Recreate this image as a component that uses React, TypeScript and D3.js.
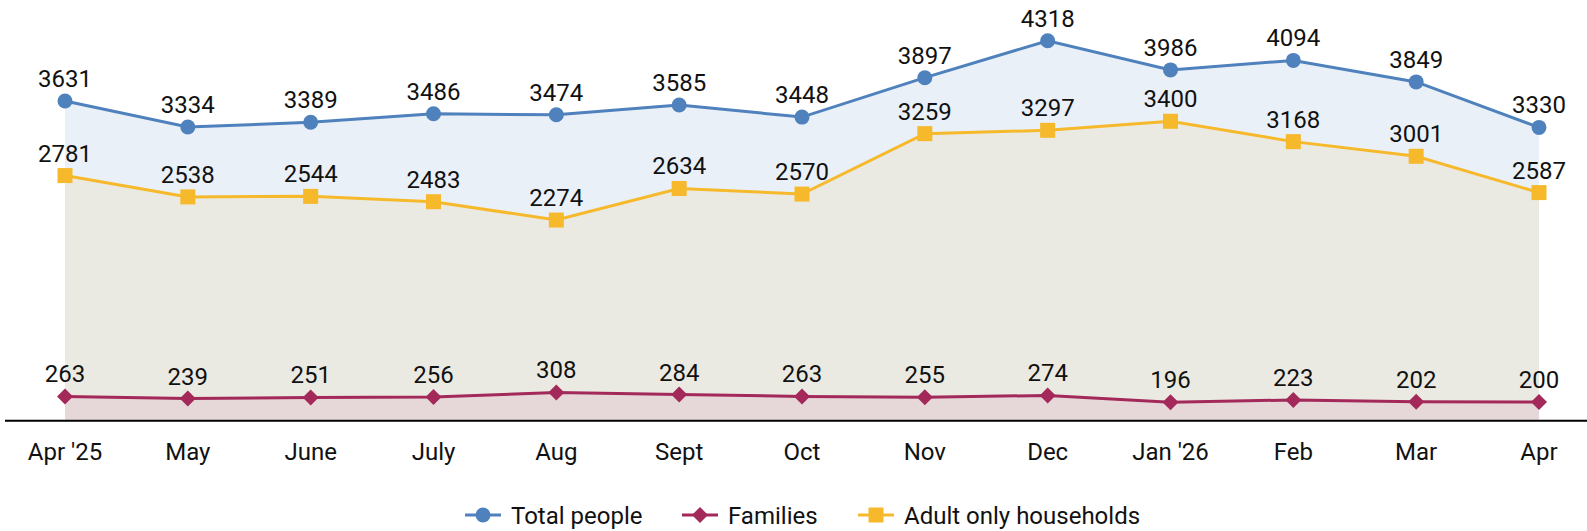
import React from 'react';
import * as d3 from 'd3';

const categories = ["Apr '25", 'May', 'June', 'July', 'Aug', 'Sept', 'Oct', 'Nov', 'Dec', "Jan '26", 'Feb', 'Mar', 'Apr'];
const totalPeople = [3631, 3334, 3389, 3486, 3474, 3585, 3448, 3897, 4318, 3986, 4094, 3849, 3330];
const families = [263, 239, 251, 256, 308, 284, 263, 255, 274, 196, 223, 202, 200];
const adultOnly = [2781, 2538, 2544, 2483, 2274, 2634, 2570, 3259, 3297, 3400, 3168, 3001, 2587];

const width = 1587;
const height = 531;
const font = 'Roboto, sans-serif';

interface Series {
    key: string;
    label: string;
    values: number[];
    color: string;
    fill: string;
    marker: 'circle' | 'square' | 'diamond';
}

const series: Series[] = [
    { key: 'total', label: 'Total people', values: totalPeople, color: '#4f81bd', fill: '#eaf0f7', marker: 'circle' },
    { key: 'adult', label: 'Adult only households', values: adultOnly, color: '#f6b92b', fill: '#ebeae2', marker: 'square' },
    { key: 'families', label: 'Families', values: families, color: '#a3295a', fill: '#e6d8d8', marker: 'diamond' },
];

const legendOrder = ['total', 'families', 'adult'];

const Marker = ({ type, x, y, color }: { type: string; x: number; y: number; color: string }) => {
    if (type === 'circle') return <circle cx={x} cy={y} r={7.5} fill={color} />;
    if (type === 'square') return <rect x={x - 7.5} y={y - 7.5} width={15} height={15} fill={color} />;
    return <path d={`M${x},${y - 8}L${x + 8},${y}L${x},${y + 8}L${x - 8},${y}Z`} fill={color} />;
};

const App: React.FC = () => {
    const x = d3.scalePoint<string>().domain(categories).range([65, 1539]);
    const y = d3.scaleLinear().domain([0, 4500]).range([419.5, 24.8]);

    const area = d3.area<number>()
        .x((d, i) => x(categories[i]) ?? 0)
        .y0(y(0))
        .y1((d) => y(d));

    const line = d3.line<number>()
        .x((d, i) => x(categories[i]) ?? 0)
        .y((d) => y(d));

    const legendX: Record<string, number> = { total: 465, families: 682, adult: 858 };
    const legendY = 515;

    return (
        <svg width={width} height={height} style={{ position: 'absolute', left: 0, top: 0 }} fontFamily={font}>
            <rect width={width} height={height} fill="#ffffff" />
            {series.map((s) => (
                <path key={s.key + '-area'} d={area(s.values) ?? ''} fill={s.fill} />
            ))}
            <line x1={5} x2={width} y1={420.7} y2={420.7} stroke="#000" strokeWidth={2} />
            {series.map((s) => (
                <g key={s.key}>
                    <path d={line(s.values) ?? ''} fill="none" stroke={s.color} strokeWidth={3} />
                    {s.values.map((v, i) => (
                        <g key={i}>
                            <Marker type={s.marker} x={x(categories[i]) ?? 0} y={y(v)} color={s.color} />
                            <text x={x(categories[i])} y={y(v) - 14} textAnchor="middle" fontSize={24} fill="#111">
                                {v}
                            </text>
                        </g>
                    ))}
                </g>
            ))}
            {categories.map((c) => (
                <text key={c} x={x(c)} y={460} textAnchor="middle" fontSize={24} fill="#111">
                    {c}
                </text>
            ))}
            {legendOrder.map((k) => {
                const s = series.find((d) => d.key === k)!;
                const lx = legendX[k];
                return (
                    <g key={k}>
                        <line x1={lx} x2={lx + 36} y1={legendY} y2={legendY} stroke={s.color} strokeWidth={3} />
                        <Marker type={s.marker} x={lx + 18} y={legendY} color={s.color} />
                        <text x={lx + 46} y={legendY + 8.5} fontSize={24} fill="#111">
                            {s.label}
                        </text>
                    </g>
                );
            })}
        </svg>
    );
};

export default App;
